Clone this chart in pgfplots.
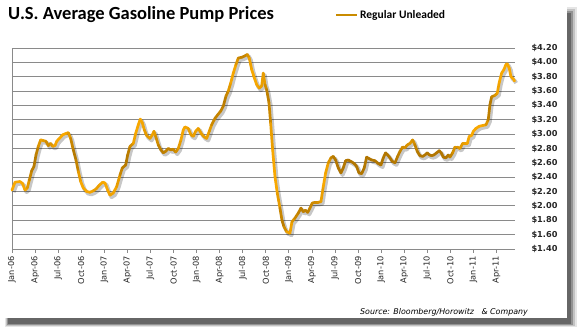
\documentclass[border=0pt]{standalone}
\usepackage{pgfplots}
\pgfplotsset{compat=1.18}
\usepackage{pgfplotstable}
\usepackage{fontspec}
\setmainfont{DejaVu Sans}
\newfontfamily\titlefont{Carlito}
\definecolor{gridgray}{HTML}{8A8A8A}
\definecolor{legorange}{HTML}{C98B00}
\pgfplotstableread{
x y c
0.00 2.22 1
0.39 2.33 1
1.04 2.34 1
1.39 2.31 1
1.69 2.22 1
1.99 2.25 0.9
2.25 2.36 0.6
2.56 2.49 0.3
2.86 2.55 0.3
3.12 2.71 0.2
3.42 2.83 0.5
3.73 2.92 0.9
4.07 2.91 0.9
4.42 2.90 0.6
4.72 2.84 0.5
5.03 2.87 0.6
5.29 2.83 0.8
5.59 2.84 0.9
5.81 2.90 1
6.15 2.94 1
6.59 2.99 1
7.02 3.01 1
7.32 3.02 0.9
7.63 2.94 0.6
7.97 2.78 0.3
8.32 2.64 0.2
8.62 2.48 0.6
8.93 2.34 1
9.27 2.25 1
9.71 2.20 1
10.14 2.19 1
10.57 2.21 0.9
10.96 2.24 0.8
11.35 2.29 0.9
11.79 2.33 1
12.09 2.32 1
12.44 2.22 1
12.74 2.15 0.9
13.17 2.18 0.9
13.61 2.27 1
14.04 2.43 0.6
14.34 2.53 0.3
14.78 2.57 0.3
15.04 2.71 0.2
15.34 2.83 0.4
15.77 2.87 0.8
16.08 3.01 1
16.42 3.13 1
16.68 3.21 1
16.94 3.16 1
17.20 3.06 0.9
17.51 2.98 0.7
17.94 2.94 0.8
18.24 2.99 0.9
18.46 3.04 0.9
18.68 2.97 0.7
19.02 2.85 0.5
19.37 2.78 0.3
19.67 2.74 0.3
19.97 2.76 0.4
20.32 2.80 0.4
20.67 2.78 0.4
20.97 2.79 0.4
21.28 2.75 0.5
21.62 2.80 0.7
21.97 2.92 0.9
22.27 3.06 1
22.49 3.10 1
22.92 3.08 0.9
23.27 2.99 0.8
23.57 2.97 0.8
23.88 3.04 0.9
24.22 3.08 0.9
24.66 3.00 0.8
25.00 2.96 0.8
25.31 2.94 0.8
25.65 3.04 0.9
25.96 3.13 0.6
26.39 3.22 0.4
26.82 3.28 0.4
27.13 3.32 0.5
27.47 3.39 0.3
27.82 3.53 0.3
28.12 3.60 0.6
28.43 3.71 0.9
28.77 3.85 1
29.12 3.97 0.9
29.42 4.06 0.5
29.86 4.07 0.4
30.29 4.09 0.4
30.59 4.11 0.5
30.85 4.06 0.8
31.16 3.90 1
31.46 3.80 1
31.81 3.69 1
32.15 3.64 0.9
32.46 3.67 0.8
32.67 3.85 0.9
32.89 3.69 0.7
33.11 3.62 0.4
33.41 3.44 0.3
33.63 3.15 0.7
33.89 2.78 1
34.19 2.41 1
34.49 2.18 1
34.84 1.97 0.6
35.10 1.80 0.3
35.36 1.71 0.3
35.71 1.64 0.8
36.14 1.62 1
36.40 1.78 0.8
36.79 1.83 0.5
37.22 1.90 0.4
37.57 1.97 0.3
37.87 1.92 0.3
38.17 1.94 0.4
38.44 1.91 0.3
38.74 1.97 0.4
39.04 2.04 0.5
39.39 2.05 0.5
39.82 2.05 0.6
40.17 2.06 0.7
40.47 2.27 1
40.78 2.46 1
41.12 2.60 0.8
41.47 2.67 0.5
41.77 2.69 0.3
42.08 2.64 0.2
42.42 2.53 0.2
42.77 2.46 0.2
43.07 2.53 0.2
43.38 2.63 0.2
43.72 2.64 0.2
44.07 2.62 0.2
44.50 2.59 0.2
44.81 2.55 0.2
45.11 2.46 0.2
45.46 2.45 0.2
45.80 2.53 0.2
46.11 2.68 0.2
46.41 2.66 0.2
46.76 2.64 0.2
47.19 2.63 0.2
47.62 2.59 0.2
47.97 2.57 0.2
48.27 2.67 0.2
48.58 2.74 0.2
48.84 2.71 0.2
49.14 2.67 0.2
49.44 2.62 0.2
49.79 2.60 0.2
50.14 2.69 0.3
50.44 2.76 0.4
50.79 2.82 0.5
51.09 2.81 0.6
51.39 2.85 0.6
51.74 2.87 0.7
52.09 2.92 0.7
52.39 2.85 0.5
52.69 2.76 0.3
53.04 2.70 0.2
53.39 2.69 0.2
53.69 2.71 0.2
53.99 2.74 0.2
54.25 2.71 0.2
54.56 2.70 0.2
54.86 2.71 0.2
55.21 2.74 0.2
55.56 2.77 0.2
55.86 2.73 0.2
56.07 2.68 0.2
56.42 2.67 0.2
56.72 2.71 0.2
56.94 2.68 0.3
57.29 2.74 0.5
57.59 2.82 0.7
57.89 2.82 0.7
58.24 2.80 0.7
58.59 2.87 0.8
58.89 2.87 0.8
59.19 2.87 0.9
59.45 2.97 1
59.76 2.98 1
59.98 3.04 1
60.32 3.08 1
60.76 3.11 1
61.19 3.12 1
61.62 3.13 0.9
61.92 3.20 0.5
62.14 3.41 0.2
62.36 3.52 0.3
62.79 3.54 0.6
63.09 3.57 0.8
63.35 3.72 1
63.66 3.85 1
63.96 3.90 1
64.22 3.97 1
64.39 3.98 1
64.65 3.92 1
64.87 3.80 1
65.17 3.77 1
65.35 3.74 1
}\gasdata
\begin{document}
\begin{tikzpicture}[x=1pt,y=1pt]
\useasboundingbox (0,0) rectangle (582,334);
% card shadow
\fill[black, opacity=0.10] (5,7) rectangle (577,327);
\fill[black, opacity=0.15] (6,8) rectangle (575,325);
\fill[black, opacity=0.25] (7,9) rectangle (573,323);
\fill[black, opacity=0.30] (8,10) rectangle (571,321);
\fill[white] (0,16) rectangle (567,334);
% title
\node[anchor=base west, inner sep=0pt, font=\titlefont\bfseries\fontsize{18.5}{20}\selectfont] at (8,314) {U.S. Average Gasoline Pump Prices};
% source
\node[anchor=base east, inner sep=0pt, font=\itshape\fontsize{7.9}{9}\selectfont] at (528,19) {Source: Bloomberg/Horowitz\ \ \ \& Company};
\begin{axis}[
  at={(12pt,85pt)}, anchor=south west,
  scale only axis, width=503pt, height=201pt,
  xmin=0, xmax=65.4, ymin=1.4, ymax=4.2,
  axis line style={draw=none},
  xtick={0,3,6,9,12,15,18,21,24,27,30,33,36,39,42,45,48,51,54,57,60,63},
  xticklabels={Jan-06,Apr-06,Jul-06,Oct-06,Jan-07,Apr-07,Jul-07,Oct-07,Jan-08,Apr-08,Jul-08,Oct-08,Jan-09,Apr-09,Jul-09,Oct-09,Jan-10,Apr-10,Jul-10,Oct-10,Jan-11,Apr-11},
  ytick={1.4,1.6,1.8,2.0,2.2,2.4,2.6,2.8,3.0,3.2,3.4,3.6,3.8,4.0,4.2},
  yticklabels={\$1.40,\$1.60,\$1.80,\$2.00,\$2.20,\$2.40,\$2.60,\$2.80,\$3.00,\$3.20,\$3.40,\$3.60,\$3.80,\$4.00,\$4.20},
  ymajorgrids, grid style={gridgray, line width=0.9pt},
  xtick pos=left, tick align=outside, major tick length=4pt,
  xtick style={draw=gridgray, line width=0.9pt},
  ytick style={draw=none},
  yticklabel pos=right,
  yticklabel style={anchor=west, xshift=9pt, font=\bfseries\fontsize{8.2}{9}\selectfont, text=black!85},
  xticklabel style={rotate=90, anchor=east, font=\fontsize{8.2}{9}\selectfont, text=black!85},
  colormap={gas}{rgb255(0)=(160,106,0) rgb255(1)=(248,168,0)},
  point meta min=0, point meta max=1,
  legend style={at={(axis description cs:0.642,1.164)}, anchor=west, draw=none, fill=none, inner sep=0pt,
    font=\titlefont\bfseries\fontsize{11.5}{12}\selectfont},
  legend image code/.code={\draw[#1] (0pt,0pt) -- (21pt,0pt);},
  clip=false,
]
\draw[gridgray, line width=0.9pt] (rel axis cs:0,0) -- (rel axis cs:0,1);
\addlegendimage{legorange, line width=2pt}
\addlegendentry{Regular Unleaded}
\addplot[black, opacity=0.22, line width=3.9pt, line join=round, forget plot, transform canvas={xshift=1.6pt,yshift=-2pt}] table[x=x,y=y]{\gasdata};
\addplot[mesh, point meta=\thisrow{c}, line width=2.7pt, line cap=round, line join=round, forget plot] table[x=x,y=y]{\gasdata};
\end{axis}
\end{tikzpicture}
\end{document}
